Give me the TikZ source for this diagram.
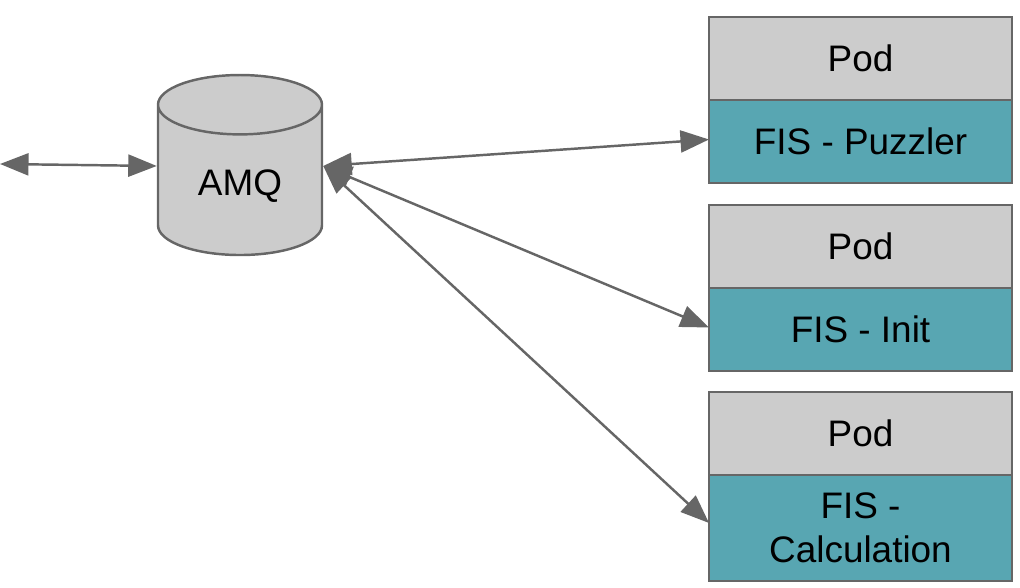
\documentclass[tikz,border=0pt]{standalone}
\usepackage{fontspec}
\setmainfont{Liberation Sans}
\usetikzlibrary{arrows.meta,positioning,shapes.geometric}
\definecolor{podgray}{HTML}{CCCCCC}
\definecolor{fisteal}{HTML}{58A6B2}
\definecolor{edgegray}{HTML}{666666}

\begin{document}
\begin{tikzpicture}[>={Triangle[length=0.57cm,width=0.44cm]}]
    \tikzset{block/.style= {draw=edgegray, rectangle
    , line width=1.4pt
    , minimum width=6.06cm
    , minimum height=1.66cm
    , inner sep=0pt, outer sep=0pt
    , align=center
    , font=\fontsize{21}{25}\selectfont
      }
    , pod/.style={block, fill=podgray}
    , fis/.style={block, fill=fisteal}
    , link/.style={draw=edgegray, line width=1.4pt}
    }
\useasboundingbox (0,0) rectangle (20.4,11.76);

\node [draw=edgegray, fill=podgray, line width=1.4pt, cylinder, shape border rotate=90
      , aspect=0.62, minimum width=3.28cm, minimum height=3.6cm
      , font=\fontsize{21}{25}\selectfont] (amq) at (4.8,8.04) {AMQ};
\coordinate (ext) at (0,8.48);

\node [pod] (pod1) at (17.21,10.59) {Pod};
\node [fis, below=0pt of pod1] (fis1) {FIS - Puzzler};
\node [pod] (pod2) at (17.21,6.83) {Pod};
\node [fis, below=0pt of pod2] (fis2) {FIS - Init};
\node [pod] (pod3) at (17.21,3.09) {Pod};
\node [fis, below=0pt of pod3, minimum height=2.12cm] (fis3) {FIS -\\Calculation};

 \path[link, <->]
  (ext) -- ([yshift=0.4cm]amq.west);
 \path[link, <->] ([yshift=0.4cm]amq.east) -- ([yshift=0.04cm]fis1.west);
 \path[link, <->] ([yshift=0.4cm]amq.east) -- ([yshift=0.04cm]fis2.west);
 \path[link, <->] ([yshift=0.4cm]amq.east) -- ([yshift=0.1cm]fis3.west);
\end{tikzpicture}
\end{document}
